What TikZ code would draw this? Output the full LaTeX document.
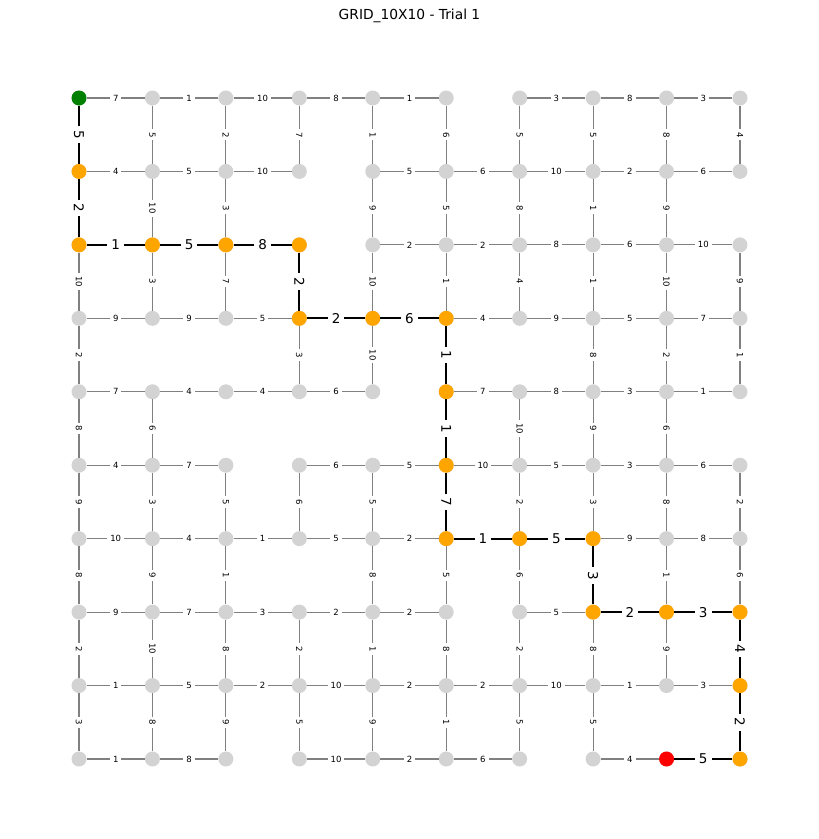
\documentclass[tikz,border=0pt]{standalone}
\usepackage{fontspec}
\setmainfont{DejaVu Sans}
\definecolor{nodegray}{HTML}{D3D3D3}
\definecolor{edgegray}{HTML}{808080}
\definecolor{pathorange}{HTML}{FFA500}
\definecolor{startgreen}{HTML}{008000}
\definecolor{endred}{HTML}{FF0000}
\tikzset{
  gnode/.style={circle, fill=nodegray, minimum size=15pt, inner sep=0pt, draw=none},
  pnode/.style={gnode, fill=pathorange},
  snode/.style={gnode, fill=startgreen},
  enode/.style={gnode, fill=endred},
  gedge/.style={draw=edgegray, line width=1.2pt},
  pedge/.style={draw=black, line width=2pt},
  slab/.style={fill=white, inner xsep=3pt, inner ysep=1.8pt, font=\fontsize{8.5}{10}\selectfont, text=black},
  plab/.style={fill=white, inner xsep=4pt, inner ysep=2.5pt, font=\fontsize{13.5}{16}\selectfont, text=black},
}
\begin{document}
\begin{tikzpicture}[x=1pt,y=-1pt]
\useasboundingbox (0,0) rectangle (819,839);
\node (title) at (409.5,16) {\fontsize{13.8}{16}\selectfont GRID\_10X10 - Trial 1};
% nodes
\foreach \r in {0,...,9}{
  \foreach \c in {0,...,9}{
    \node[gnode] (n-\r-\c) at ({79+73.444*\c},{98+73.444*\r}) {};
  }
}
% path / special nodes (drawn over)
\node[snode] (s) at (n-0-0) {};
\foreach \r/\c in {1/0,2/0,2/1,2/2,2/3,3/3,3/4,3/5,4/5,5/5,6/5,6/6,6/7,7/7,7/8,7/9,8/9,9/9}{
  \node[pnode] (p-\r-\c) at (n-\r-\c) {};
}
\node[enode] (e) at (n-9-8) {};
% horizontal gray edges r/c/w : (r,c)-(r,c+1)
\foreach \r/\c/\w [evaluate=\c as \cc using int(\c+1)] in {
  0/0/7,0/1/1,0/2/10,0/3/8,0/4/1,0/6/3,0/7/8,0/8/3,
  1/0/4,1/1/5,1/2/10,1/4/5,1/5/6,1/6/10,1/7/2,1/8/6,
  2/4/2,2/5/2,2/6/8,2/7/6,2/8/10,
  3/0/9,3/1/9,3/2/5,3/5/4,3/6/9,3/7/5,3/8/7,
  4/0/7,4/1/4,4/2/4,4/3/6,4/5/7,4/6/8,4/7/3,4/8/1,
  5/0/4,5/1/7,5/3/6,5/4/5,5/5/10,5/6/5,5/7/3,5/8/6,
  6/0/10,6/1/4,6/2/1,6/3/5,6/4/2,6/7/9,6/8/8,
  7/0/9,7/1/7,7/2/3,7/3/2,7/4/2,7/6/5,
  8/0/1,8/1/5,8/2/2,8/3/10,8/4/2,8/5/2,8/6/10,8/7/1,8/8/3,
  9/0/1,9/1/8,9/3/10,9/4/2,9/5/6,9/7/4}{
  \draw[gedge] (n-\r-\c) -- node[slab]{\w} (n-\r-\cc);
}
% vertical gray edges c/r/w : (r,c)-(r+1,c)
\foreach \c/\r/\w [evaluate=\r as \rr using int(\r+1)] in {
  0/2/10,0/3/2,0/4/8,0/5/9,0/6/8,0/7/2,0/8/3,
  1/0/5,1/1/10,1/2/3,1/4/6,1/5/3,1/6/9,1/7/10,1/8/8,
  2/0/2,2/1/3,2/2/7,2/5/5,2/6/1,2/7/8,2/8/9,
  3/0/7,3/3/3,3/5/6,3/7/2,3/8/5,
  4/0/1,4/1/9,4/2/10,4/3/10,4/5/5,4/6/8,4/7/1,4/8/9,
  5/0/6,5/1/5,5/2/1,5/6/5,5/7/8,5/8/1,
  6/0/5,6/1/8,6/2/4,6/4/10,6/5/2,6/6/6,6/7/2,6/8/5,
  7/0/5,7/1/1,7/2/1,7/3/8,7/4/9,7/5/3,7/7/8,7/8/5,
  8/0/8,8/1/9,8/2/10,8/3/2,8/4/6,8/5/8,8/6/1,8/7/9,
  9/0/4,9/2/9,9/3/1,9/5/2,9/6/6}{
  \draw[gedge] (n-\r-\c) -- node[slab, rotate=-90]{\w} (n-\rr-\c);
}
% path edges
\draw[pedge] (n-0-0) -- node[plab, rotate=-90]{5} (n-1-0);
\draw[pedge] (n-1-0) -- node[plab, rotate=-90]{2} (n-2-0);
\draw[pedge] (n-2-0) -- node[plab]{1} (n-2-1);
\draw[pedge] (n-2-1) -- node[plab]{5} (n-2-2);
\draw[pedge] (n-2-2) -- node[plab]{8} (n-2-3);
\draw[pedge] (n-2-3) -- node[plab, rotate=-90]{2} (n-3-3);
\draw[pedge] (n-3-3) -- node[plab]{2} (n-3-4);
\draw[pedge] (n-3-4) -- node[plab]{6} (n-3-5);
\draw[pedge] (n-3-5) -- node[plab, rotate=-90]{1} (n-4-5);
\draw[pedge] (n-4-5) -- node[plab, rotate=-90]{1} (n-5-5);
\draw[pedge] (n-5-5) -- node[plab, rotate=-90]{7} (n-6-5);
\draw[pedge] (n-6-5) -- node[plab]{1} (n-6-6);
\draw[pedge] (n-6-6) -- node[plab]{5} (n-6-7);
\draw[pedge] (n-6-7) -- node[plab, rotate=-90]{3} (n-7-7);
\draw[pedge] (n-7-7) -- node[plab]{2} (n-7-8);
\draw[pedge] (n-7-8) -- node[plab]{3} (n-7-9);
\draw[pedge] (n-7-9) -- node[plab, rotate=-90]{4} (n-8-9);
\draw[pedge] (n-8-9) -- node[plab, rotate=-90]{2} (n-9-9);
\draw[pedge] (n-9-8) -- node[plab]{5} (n-9-9);
\end{tikzpicture}
\end{document}
